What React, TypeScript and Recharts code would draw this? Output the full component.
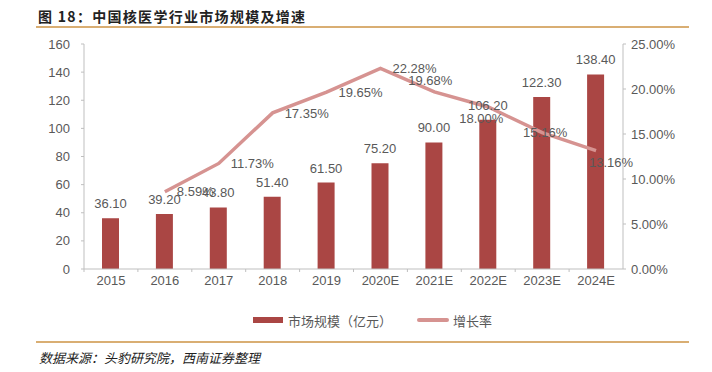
import React from 'react';
import { ComposedChart, Bar, Line, XAxis, YAxis, LabelList } from 'recharts';

const categories = ['2015', '2016', '2017', '2018', '2019', '2020E', '2021E', '2022E', '2023E', '2024E'];
const marketSize = [36.1, 39.2, 43.8, 51.4, 61.5, 75.2, 90.0, 106.2, 122.3, 138.4];
const growthRate: (number | null)[] = [null, 8.59, 11.73, 17.35, 19.65, 22.28, 19.68, 18.0, 15.16, 13.16];
const leftTicks = [0, 20, 40, 60, 80, 100, 120, 140, 160];
const rightTicks = [0, 5, 10, 15, 20, 25];

// label placement style for growth-rate labels (by category index)
const growthLabelPlacement = ['none', 'right', 'right', 'right', 'right', 'right', 'above', 'below', 'center', 'belowRight'];

const data = categories.map((c, i) => ({ name: c, size: marketSize[i], rate: growthRate[i] }));

const BAR = '#AA4644';
const LINE = '#D69391';
const TXT = '#595959';
const FONT = '"Liberation Sans", Arial, Helvetica, sans-serif';
const CJK = '"Noto Sans CJK SC", "Liberation Sans", sans-serif';

const XTick = (props: any) => {
  const { x, y, payload } = props;
  const half = payload && typeof payload.offset === 'number' && payload.offset > 0 ? payload.offset : 27;
  return (
    <g>
      <line x1={x - half} y1={y - 8} x2={x - half} y2={y - 5} stroke="#BFBFBF" />
      <text x={x} y={y + 8} textAnchor="middle" fill={TXT} fontSize={13} fontFamily={FONT}>
        {payload.value}
      </text>
    </g>
  );
};

const RateLabel = (props: any) => {
  const { x, y, value, index } = props;
  if (value == null) return null;
  const p = growthLabelPlacement[index];
  let tx = x, ty = y, anchor: 'start' | 'middle' = 'middle';
  if (p === 'right') { tx = x + 12; ty = y; anchor = 'start'; }
  else if (p === 'above') { tx = x - 4; ty = y - 12; }
  else if (p === 'below') { tx = x - 7; ty = y + 11; }
  else if (p === 'center') { tx = x + 3; ty = y; }
  else if (p === 'belowRight') { tx = x + 15; ty = y + 12; }
  return (
    <text x={tx} y={ty} dy="0.36em" textAnchor={anchor} fill={TXT} fontSize={13} fontFamily={FONT}>
      {`${Number(value).toFixed(2)}%`}
    </text>
  );
};

export default function App() {
  return (
    <div style={{ position: 'absolute', left: 0, top: 0, width: 712, height: 372, background: '#fff', fontFamily: FONT }}>
      <div style={{ position: 'absolute', left: 38, top: 6, fontFamily: CJK, fontWeight: 700, fontSize: 14, letterSpacing: 1.3, color: '#222', whiteSpace: 'nowrap', lineHeight: '20px' }}>
        图 18：中国核医学行业市场规模及增速
      </div>
      <div style={{ position: 'absolute', left: 36, top: 26, width: 653, height: 2, background: '#D9AE73' }} />
      <ComposedChart
        width={712}
        height={372}
        data={data}
        margin={{ top: 44, right: 29, bottom: 73, left: 24 }}
        barCategoryGap={0}
      >
        <XAxis
          dataKey="name"
          xAxisId="x"
          tick={<XTick />}
          tickLine={false}
          axisLine={{ stroke: '#BFBFBF' }}
          height={30}
          interval={0}
        />
        <YAxis
          yAxisId="left"
          orientation="left"
          domain={[0, 160]}
          ticks={leftTicks}
          width={60}
          tickSize={3}
          tickMargin={11}
          tick={{ fill: TXT, fontSize: 13, fontFamily: FONT }}
          axisLine={{ stroke: '#BFBFBF' }}
          tickLine={{ stroke: '#BFBFBF' }}
          interval={0}
        />
        <YAxis
          yAxisId="right"
          orientation="right"
          domain={[0, 25]}
          ticks={rightTicks}
          width={60}
          tickSize={3}
          tickMargin={5}
          tickFormatter={(v: number) => `${v.toFixed(2)}%`}
          tick={{ fill: TXT, fontSize: 13, fontFamily: FONT }}
          axisLine={{ stroke: '#BFBFBF' }}
          tickLine={{ stroke: '#BFBFBF' }}
          interval={0}
        />
        <Bar dataKey="size" xAxisId="x" yAxisId="left" fill={BAR} barSize={17} isAnimationActive={false}>
          <LabelList
            dataKey="size"
            position="top"
            offset={10}
            formatter={(v: any) => Number(v).toFixed(2)}
            style={{ fill: TXT, fontSize: 13, fontFamily: FONT }}
          />
        </Bar>
        <Line
          dataKey="rate"
          xAxisId="x"
          yAxisId="right"
          stroke={LINE}
          strokeWidth={3.5}
          dot={false}
          activeDot={false}
          connectNulls={false}
          isAnimationActive={false}
        >
          <LabelList dataKey="rate" content={<RateLabel />} />
        </Line>
      </ComposedChart>
      <div style={{ position: 'absolute', left: 253, top: 311, height: 18, display: 'flex', alignItems: 'center', whiteSpace: 'nowrap', fontFamily: CJK, fontSize: 13, color: TXT }}>
        <span style={{ display: 'inline-block', width: 30, height: 6, background: BAR, marginRight: 5 }} />
        <span>市场规模（亿元）</span>
        <span style={{ display: 'inline-block', width: 32, height: 4, background: LINE, marginLeft: 25, marginRight: 4, borderRadius: 2 }} />
        <span>增长率</span>
      </div>
      <div style={{ position: 'absolute', left: 36, top: 341, width: 653, height: 2, background: '#D9AE73' }} />
      <div style={{ position: 'absolute', left: 39, top: 349, fontFamily: CJK, fontStyle: 'italic', fontSize: 13, color: '#222', whiteSpace: 'nowrap', lineHeight: '18px' }}>
        数据来源：头豹研究院，西南证券整理
      </div>
    </div>
  );
}
